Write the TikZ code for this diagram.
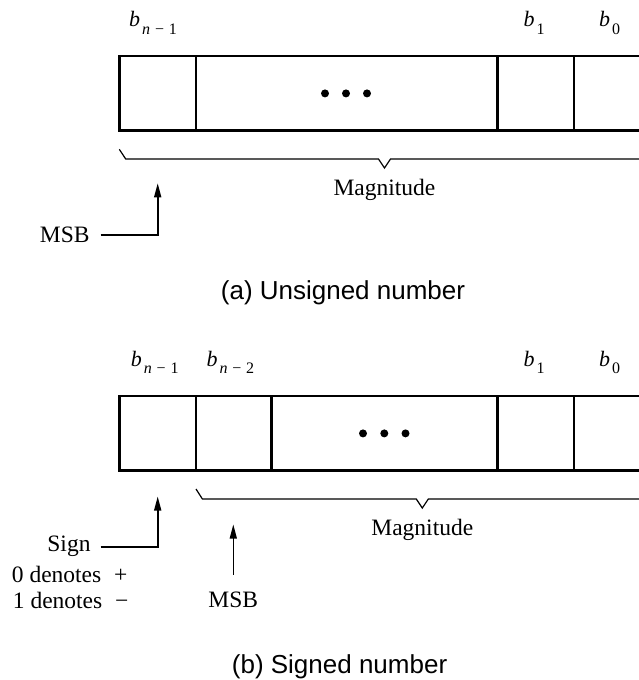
\documentclass[tikz,border=0pt]{standalone}
\usepackage{fontspec}
\setmainfont{Liberation Serif}
\newfontfamily\capfont{Liberation Sans}
\usetikzlibrary{arrows.meta}
\newcommand{\bsub}[1]{\fontsize{22}{22}\selectfont\textit{b}\kern2pt\raisebox{-7.3pt}{\fontsize{16}{16}\selectfont #1}}
\newcommand{\subn}[1]{\textit{n}\hspace{0.3em}−\hspace{0.3em}#1}
\begin{document}
\begin{tikzpicture}[x=1pt,y=-1pt,
  reg/.style={line width=2.6pt, line join=miter},
  brc/.style={line width=1.2pt, line join=miter},
  arr/.style={line width=1.6pt, -{Triangle[length=14pt,width=7pt]}},
  lbl/.style={anchor=base west, inner sep=0pt},
  txt/.style={font=\fontsize{23.5}{23.5}\selectfont},
  capt/.style={font=\capfont\fontsize{26}{26}\selectfont, anchor=base west, inner sep=0pt},
  dotn/.style={fill=black, circle, inner sep=0pt, minimum size=8pt}
]
\useasboundingbox (0,0) rectangle (639,680);

% ---------- (a) unsigned ----------
\node[lbl] (bn1a) at (129,26.7) {\bsub{\subn{1}}};
\node[lbl] (b1a) at (523.5,26.7) {\bsub{1}};
\node[lbl] (b0a) at (599,26.7) {\bsub{0}};

\draw[reg] (639,56) -- (119.3,56) -- (119.3,130.7) -- (639,130.7);
\draw[reg] (196,56) -- (196,130.7);
\draw[reg] (497.7,56) -- (497.7,130.7);
\draw[reg] (574,56) -- (574,130.7);
\node[dotn] (da1) at (325,93.4) {};
\node[dotn] (da2) at (346,93.4) {};
\node[dotn] (da3) at (367,93.4) {};

\draw[brc] (119.3,149.3) -- (125.7,159) -- (378.5,159) -- (384.5,168) -- (390.5,159) -- (639,159);
\node[txt, anchor=base, inner sep=0pt] (maga) at (384.5,195) {Magnitude};

\node[txt, anchor=east, inner xsep=11pt, inner ysep=0pt] (msba) at (100.7,235) {MSB};
\coordinate (msbatip) at (157.7,183.3);
\draw[arr] (msba.east) -| (msbatip);

\node[capt] (capa) at (220.7,299) {(a) Unsigned number};

% ---------- (b) signed ----------
\node[lbl] (bn1b) at (130.7,366) {\bsub{\subn{1}}};
\node[lbl] (bn2b) at (206.3,366) {\bsub{\subn{2}}};
\node[lbl] (b1b) at (523.5,366) {\bsub{1}};
\node[lbl] (b0b) at (599,366) {\bsub{0}};

\draw[reg] (639,396) -- (119.3,396) -- (119.3,470.7) -- (639,470.7);
\draw[reg] (196,396) -- (196,470.7);
\draw[reg] (271.7,396) -- (271.7,470.7);
\draw[reg] (497.7,396) -- (497.7,470.7);
\draw[reg] (574,396) -- (574,470.7);
\node[dotn] (db1) at (363,433.4) {};
\node[dotn] (db2) at (384.3,433.4) {};
\node[dotn] (db3) at (405.5,433.4) {};

\draw[brc] (196,489) -- (202.4,499) -- (416.3,499) -- (422.3,508) -- (428.3,499) -- (639,499);
\node[txt, anchor=base, inner sep=0pt] (magb) at (422.3,535) {Magnitude};

\node[txt, anchor=east, inner xsep=10pt, inner ysep=0pt] (sign) at (100.7,546.7) {Sign};
\coordinate (signtip) at (157.7,496.5);
\draw[arr] (sign.east) -| (signtip);

\node[txt, lbl] (den0) at (11.7,582.7) {0 denotes\hspace{0.55em}+};
\node[txt, lbl] (den1) at (12.7,608.3) {1 denotes\hspace{0.55em}−};

\node[txt, anchor=base, inner sep=0pt] (msbb) at (233.3,607) {MSB};
\coordinate (msbbtip) at (233.3,524.5);
\draw[arr, line width=1.3pt, shorten <=16.5pt] (msbb.north) -- (msbbtip);

\node[capt] (capb) at (231.7,673) {(b) Signed number};
\end{tikzpicture}
\end{document}
